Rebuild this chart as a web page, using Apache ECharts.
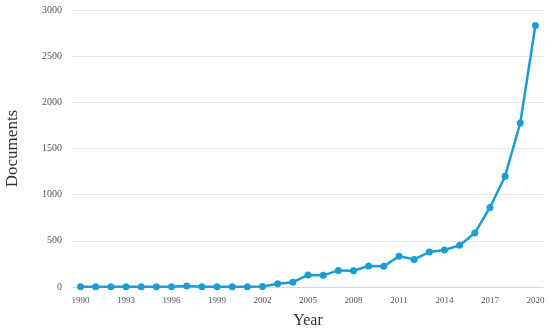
<!DOCTYPE html>
<html>
<head>
<meta charset="utf-8">
<script src="https://cdn.jsdelivr.net/npm/echarts@6/dist/echarts.min.js"></script>
<style>html,body{margin:0;padding:0;background:#fff}#c{width:550px;height:332px}</style>
</head>
<body>
<div id="c"></div>
<script>
var years = ['1990','1991','1992','1993','1994','1995','1996','1997','1998','1999','2000','2001','2002','2003','2004','2005','2006','2007','2008','2009','2010','2011','2012','2013','2014','2015','2016','2017','2018','2019','2020'];
var documents = [2,3,2,3,4,3,4,10,4,3,3,3,5,35,52,130,126,180,176,227,224,332,299,378,400,451,584,861,1200,1776,2832];
var yTicks = [0,500,1000,1500,2000,2500,3000];

var chart = echarts.init(document.getElementById('c'));
var font = 'Liberation Serif';
chart.setOption({
  animation: false,
  grid: {left: 73, right: 7, top: 10, bottom: 45, containLabel: false, outerBoundsMode: 'none'},
  xAxis: {
    type: 'category',
    data: years,
    boundaryGap: true,
    name: 'Year',
    nameLocation: 'middle',
    nameGap: 26,
    nameMoveOverlap: false,
    nameTextStyle: {fontFamily: font, fontSize: 16, color: '#333'},
    axisLine: {lineStyle: {color: '#ccd6eb'}},
    axisTick: {alignWithLabel: true, interval: 2, length: 6, lineStyle: {color: '#ccd6eb'}},
    axisLabel: {interval: 2, fontFamily: font, fontSize: 9, color: '#555', margin: 9}
  },
  yAxis: {
    type: 'value',
    min: yTicks[0],
    max: yTicks[yTicks.length-1],
    interval: 500,
    name: 'Documents',
    nameLocation: 'middle',
    nameGap: 52,
    nameMoveOverlap: false,
    nameTextStyle: {fontFamily: font, fontSize: 17, color: '#333'},
    axisLine: {show: false},
    axisTick: {show: false},
    axisLabel: {fontFamily: font, fontSize: 10, color: '#555', margin: 11, formatter: function (v) { return String(v); }},
    splitLine: {lineStyle: {color: '#e6e6e6'}}
  },
  series: [{
    type: 'line',
    data: documents,
    symbol: 'circle',
    symbolSize: 7,
    lineStyle: {color: '#1b9dd3', width: 2.5},
    itemStyle: {color: '#1b9dd3'}
  }]
});
</script>
</body>
</html>
